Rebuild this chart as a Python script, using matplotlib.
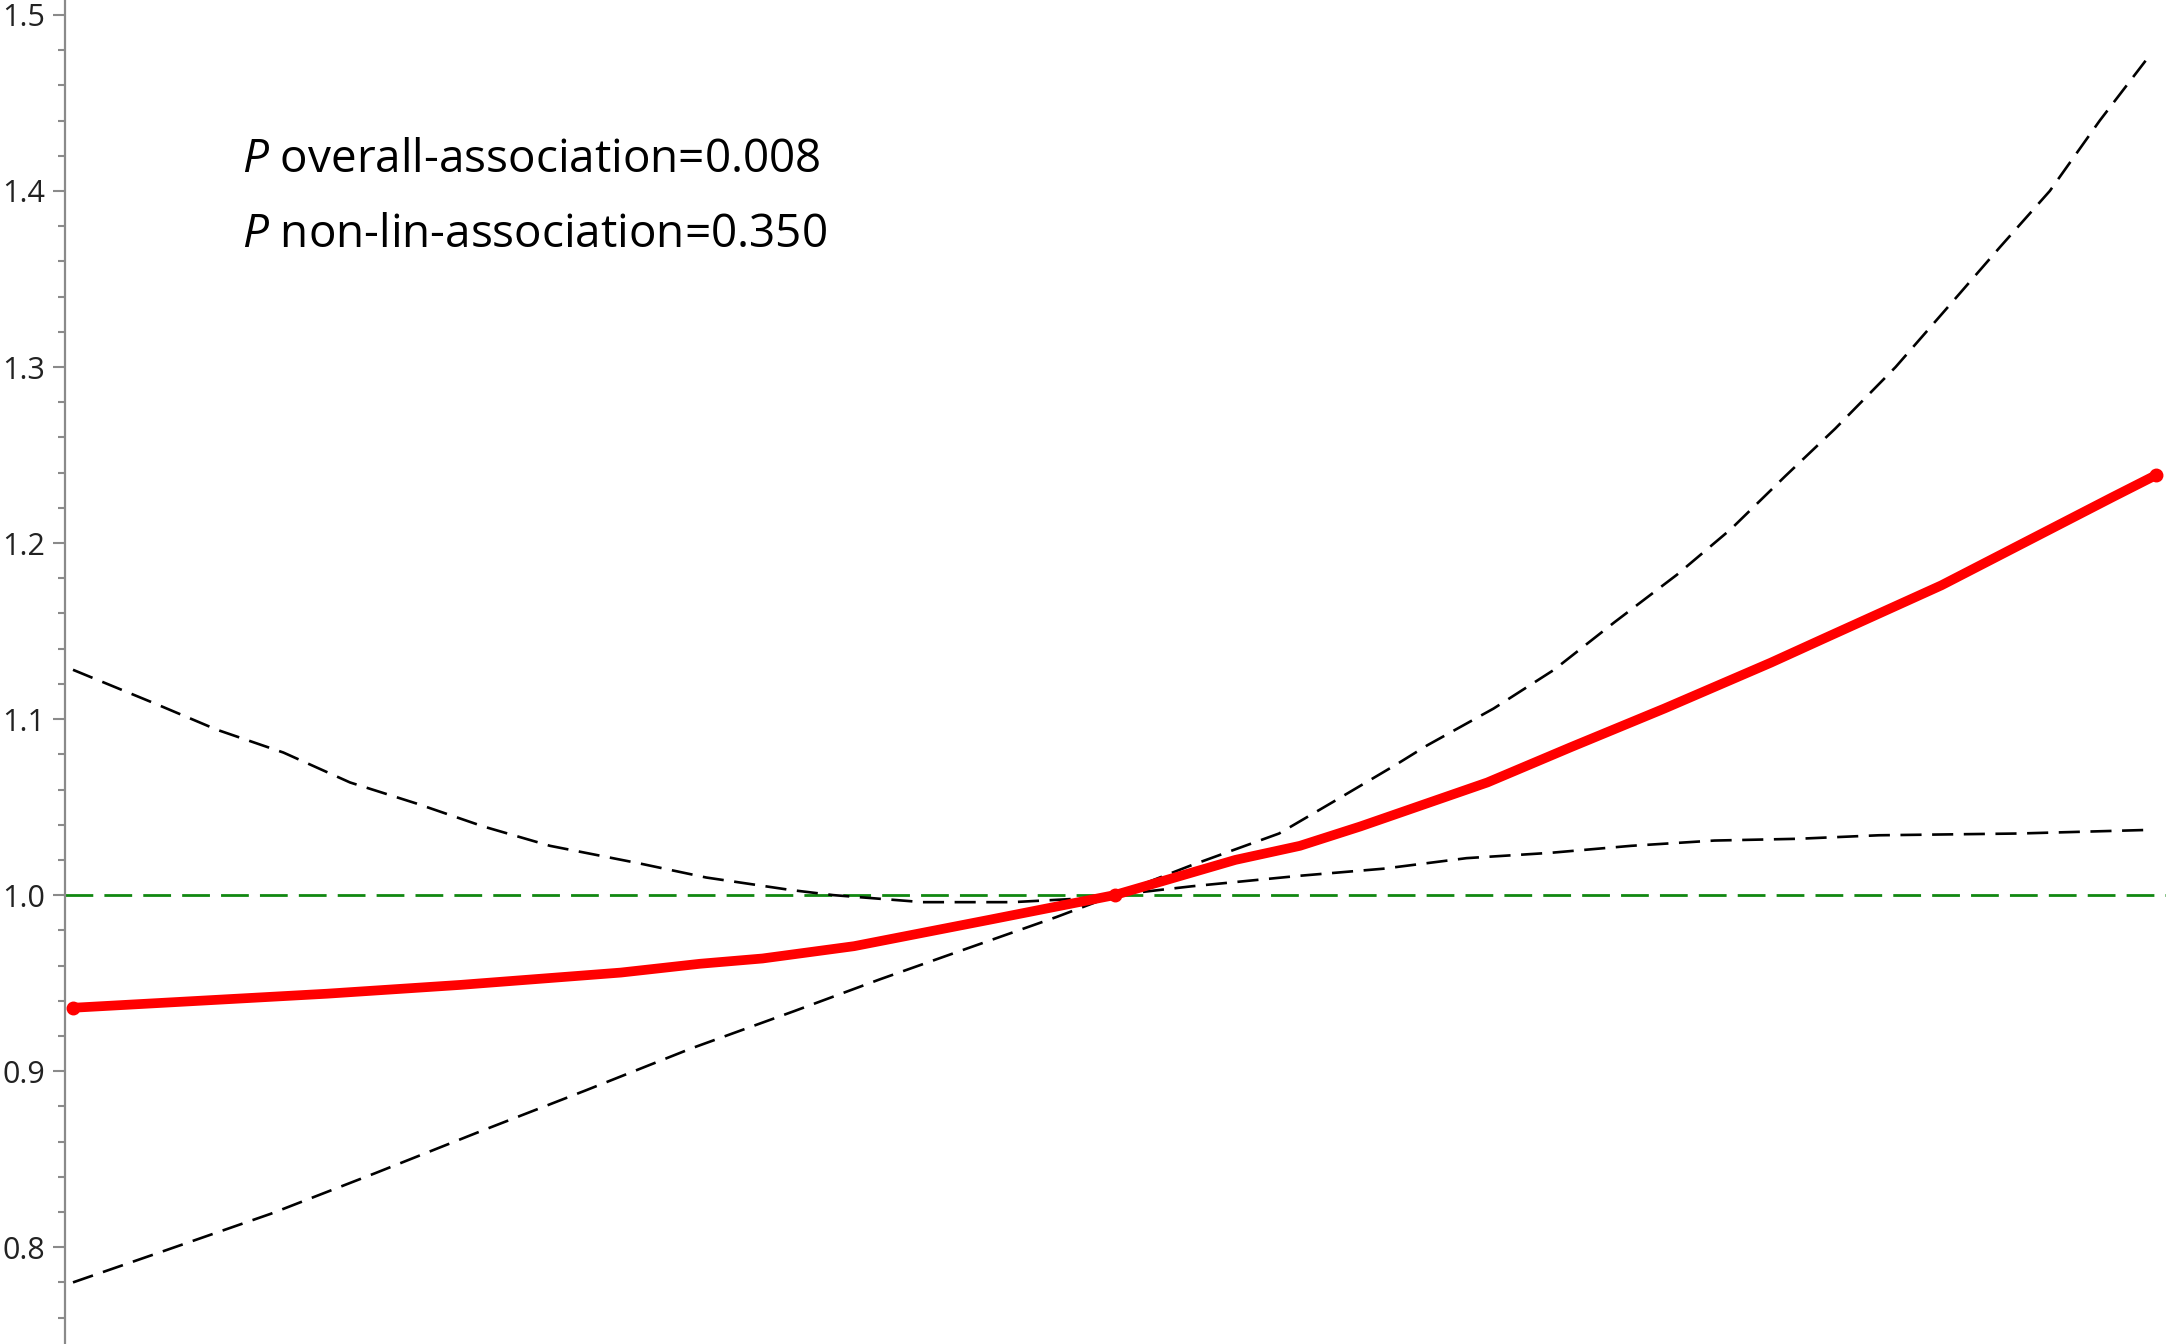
import matplotlib
matplotlib.use("Agg")
import matplotlib.pyplot as plt
from matplotlib.ticker import MultipleLocator

# estimated curve (red)
x_est = [0, 12.2, 18.6, 26.3, 30.1, 33.1, 37.5, 44.0, 50.0, 55.8, 58.9, 61.8,
         67.9, 71.9, 76.4, 81.5, 84.1, 89.7, 97.9, 100]
rr_est = [0.936, 0.944, 0.949, 0.956, 0.961, 0.964, 0.971, 0.986, 1.000, 1.020,
          1.028, 1.039, 1.064, 1.084, 1.106, 1.132, 1.146, 1.176, 1.226, 1.2386]

# upper confidence band
x_up = [0, 3.9, 6.9, 10.1, 13.3, 16.5, 19.7, 22.9, 27.2, 30.4, 34.4, 36.5, 40.8,
        45.1, 48.3, 50.0, 53.7, 57.9, 60.5, 63.5, 65.0, 68.2, 71.1, 74.0, 77.0,
        79.6, 82.2, 84.6, 87.5, 90.3, 92.5, 94.9, 97.3, 99.5]
rr_up = [1.128, 1.109, 1.094, 1.081, 1.064, 1.052, 1.039, 1.028, 1.018, 1.010,
         1.003, 1.000, 0.996, 0.996, 0.998, 1.000, 1.017, 1.035, 1.053, 1.074,
         1.085, 1.106, 1.128, 1.155, 1.182, 1.208, 1.238, 1.265, 1.300, 1.338,
         1.368, 1.400, 1.440, 1.474]

# lower confidence band
x_lo = [0, 4.4, 9.5, 14.5, 19.6, 24.6, 29.7, 34.6, 38.7, 43.0, 47.2, 50.0, 53.7,
        58.9, 62.9, 66.9, 70.9, 74.8, 78.8, 82.8, 86.7, 93.4, 99.5]
rr_lo = [0.780, 0.798, 0.819, 0.842, 0.866, 0.889, 0.913, 0.934, 0.952, 0.970,
         0.9875, 1.000, 1.005, 1.011, 1.015, 1.021, 1.024, 1.028, 1.031, 1.032,
         1.034, 1.035, 1.037]

ref_value = 1.0
p_overall = "0.008"
p_nonlin = "0.350"

plt.rcParams['font.family'] = ['Open Sans', 'DejaVu Sans']
plt.rcParams['mathtext.fontset'] = 'custom'
plt.rcParams['mathtext.it'] = 'Open Sans:italic'
plt.rcParams['mathtext.rm'] = 'Open Sans'

fig = plt.figure(figsize=(21.66, 13.44), dpi=100)
ax = fig.add_axes([65 / 2166, 0, 1 - 65 / 2166, 1])

ax.axhline(ref_value, color='#118811', lw=2.0, dashes=(10, 4), zorder=1)
ax.plot(x_up, rr_up, color='black', lw=1.9, dashes=(8, 4), zorder=2)
ax.plot(x_lo, rr_lo, color='black', lw=1.9, dashes=(8, 4), zorder=2)
ax.plot(x_est, rr_est, color='#ff0000', lw=7, solid_capstyle='round', zorder=3)
ax.plot([x_est[0], 50.0, x_est[-1]], [rr_est[0], 1.0, rr_est[-1]], 'o',
        color='#ff0000', ms=9, zorder=4)

ax.set_xlim(-0.384, 100.48)
ax.set_ylim(0.745, 1.5085)

ax.yaxis.set_major_locator(MultipleLocator(0.1))
ax.yaxis.set_minor_locator(MultipleLocator(0.02))
ax.yaxis.set_major_formatter(plt.FormatStrFormatter('%.1f'))
ax.tick_params(axis='y', which='major', length=9, width=1.5, color='#8a8a8a',
               labelsize=22, labelcolor='#222222', pad=5)
ax.tick_params(axis='y', which='minor', length=5, width=1.5, color='#8a8a8a')
ax.set_xticks([])

for side in ['top', 'right', 'bottom']:
    ax.spines[side].set_visible(False)
ax.spines['left'].set_color('#8a8a8a')
ax.spines['left'].set_linewidth(1.6)

fig.text(242 / 2166, 1 - 160 / 1344, r'$\mathit{P}$ overall-association=' + p_overall,
         fontsize=33, va='center', ha='left', color='black')
fig.text(242 / 2166, 1 - 235 / 1344, r'$\mathit{P}$ non-lin-association=' + p_nonlin,
         fontsize=33, va='center', ha='left', color='black')

fig.savefig('out.png', dpi=100)
